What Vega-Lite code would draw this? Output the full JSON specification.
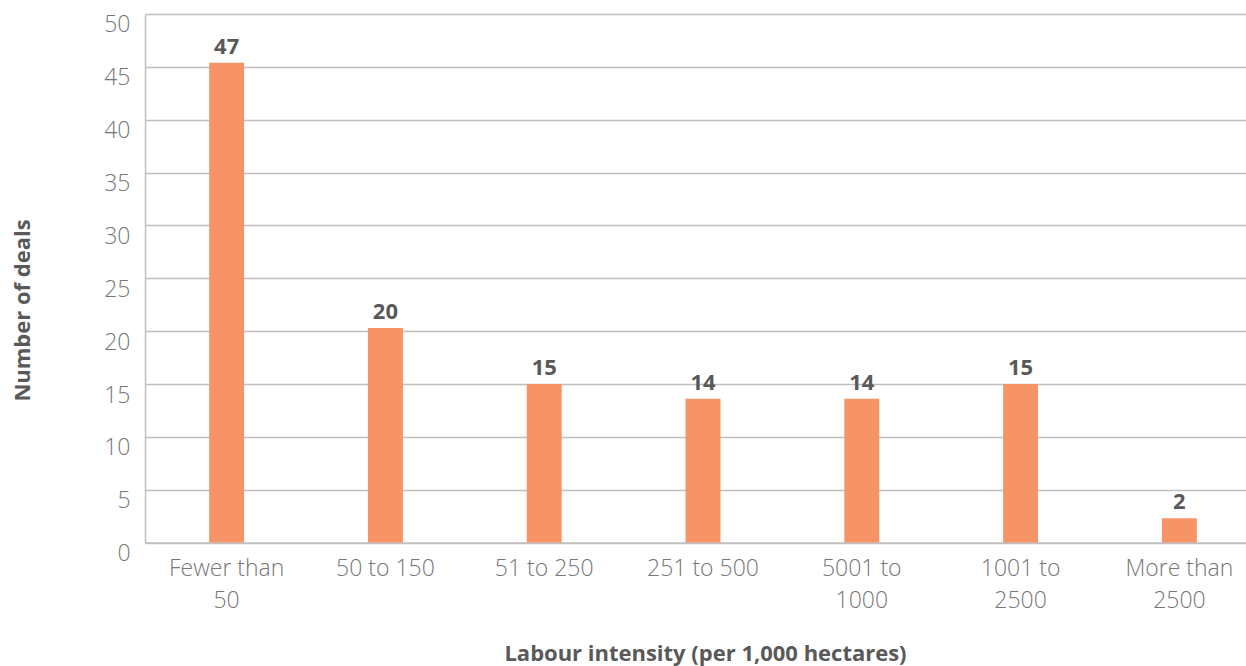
{
  "$schema": "https://vega.github.io/schema/vega-lite/v6.json",
  "autosize": "none",
  "width": 1101,
  "height": 528.6,
  "padding": {"left": 145, "top": 14, "right": 0, "bottom": 123},
  "background": "white",
  "config": {
    "view": {"stroke": null},
    "font": "Open Sans"
  },
  "data": {
    "values": [
      {"category": "Fewer than 50", "height": 45.4, "deals": 47},
      {"category": "50 to 150", "height": 20.3, "deals": 20},
      {"category": "51 to 250", "height": 15.0, "deals": 15},
      {"category": "251 to 500", "height": 13.6, "deals": 14},
      {"category": "5001 to 1000", "height": 13.6, "deals": 14},
      {"category": "1001 to 2500", "height": 15.0, "deals": 15},
      {"category": "More than 2500", "height": 2.3, "deals": 2}
    ]
  },
  "encoding": {
    "x": {
      "field": "category",
      "type": "nominal",
      "sort": null,
      "scale": {"range": [0, 1116], "paddingInner": 0.78, "paddingOuter": 0.404},
      "axis": {
        "title": "Labour intensity (per 1,000 hectares)",
        "titleFont": "Open Sans",
        "titleFontSize": 22,
        "titleFontWeight": "bold",
        "titleColor": "#595959",
        "titleX": 560,
        "titleY": 117.7,
        "titleBaseline": "alphabetic",
        "labelAngle": 0,
        "labelFont": "Open Sans",
        "labelFontSize": 23,
        "labelFontWeight": 300,
        "labelColor": "#767676",
        "labelPadding": 15,
        "labelLineHeight": 32,
        "labelBaseline": "top",
        "labelExpr": "datum.value == 'Fewer than 50' ? ['Fewer than', '50'] : datum.value == '5001 to 1000' ? ['5001 to', '1000'] : datum.value == '1001 to 2500' ? ['1001 to', '2500'] : datum.value == 'More than 2500' ? ['More than', '2500'] : datum.value",
        "ticks": false,
        "domain": true,
        "domainColor": "#C0C0C0",
        "domainWidth": 1.5,
        "grid": false
      }
    },
    "y": {
      "field": "height",
      "type": "quantitative",
      "scale": {"domain": [0, 50], "nice": false},
      "axis": {
        "title": "Number of deals",
        "titleFont": "Open Sans",
        "titleFontSize": 22,
        "titleFontWeight": "bold",
        "titleColor": "#595959",
        "titleAngle": 270,
        "titleAlign": "center",
        "titleBaseline": "middle",
        "titleX": -123,
        "titleY": 296,
        "values": [0, 5, 10, 15, 20, 25, 30, 35, 40, 45, 50],
        "labelFont": "Open Sans",
        "labelFontSize": 23,
        "labelFontWeight": 300,
        "labelColor": "#767676",
        "labelPadding": 15,
        "labelBaseline": "top",
        "ticks": false,
        "domain": true,
        "domainColor": "#C0C0C0",
        "domainWidth": 1.5,
        "grid": true,
        "gridColor": "#C0C0C0",
        "gridWidth": 1.5
      }
    }
  },
  "layer": [
    {
      "mark": {"type": "bar", "color": "#F79467"}
    },
    {
      "mark": {
        "type": "text",
        "baseline": "alphabetic",
        "dy": -9,
        "font": "Open Sans",
        "fontSize": 22,
        "fontWeight": "bold",
        "color": "#595959"
      },
      "encoding": {
        "text": {"field": "deals", "type": "quantitative"}
      }
    }
  ]
}
